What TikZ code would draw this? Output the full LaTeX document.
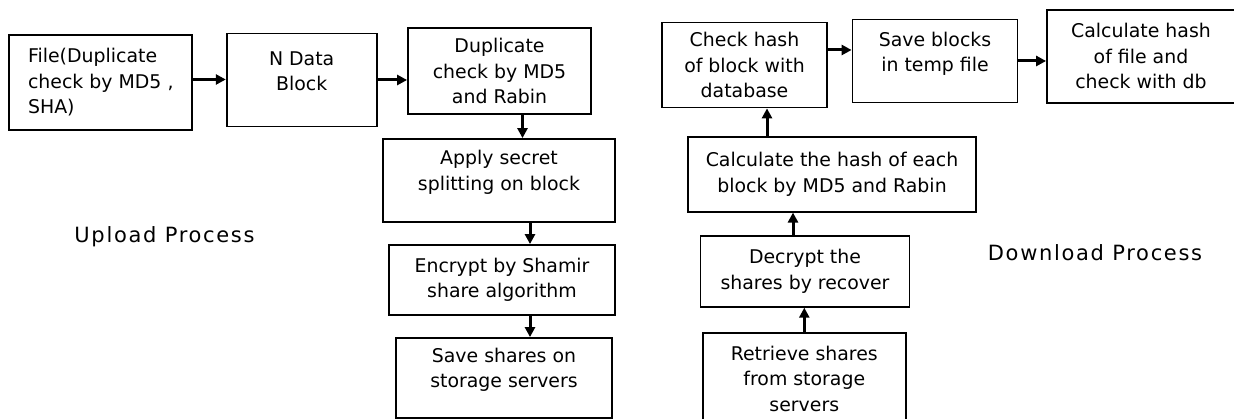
\documentclass[tikz,border=0pt]{standalone}
\usepackage{fontspec}
\newfontfamily\boitefont{DejaVu Sans}
\newfontfamily\titrefont[LetterSpace=8]{DejaVu Sans}
\usetikzlibrary{arrows.meta}

% texte remonté dans sa boîte
\newcommand\haut[2]{\raisebox{#1}[\height][\depth]{\begin{tabular}{@{}c@{}}#2\end{tabular}}}

\tikzset{
    boite/.style={draw, line width=1.8pt, align=center, inner sep=0pt,
        font=\boitefont\fontsize{18.9}{25.5}\selectfont},
    fleche/.style={-{Triangle[length=10pt,width=10pt]}, line width=3pt},
    titre/.style={font=\titrefont\fontsize{21}{25}\selectfont}
}

\begin{document}
\begin{tikzpicture}[x=10pt,y=10pt]
    \useasboundingbox (0,0) rectangle (123.4,41.9);

    % Envoi
    \node[boite, align=left, minimum width=183pt, minimum height=95pt] (fichier) at (10.08,33.65) {File(Duplicate\\check by MD5 ,\\SHA)};
    \node[boite, minimum width=150pt, minimum height=93pt] (blocs) at (30.17,33.9) {\haut{7pt}{N Data\\Block}};
    \node[boite, minimum width=183pt, minimum height=86pt] (doublon) at (49.95,34.8) {Duplicate\\check by MD5\\and Rabin};
    \node[boite, minimum width=232pt, minimum height=83pt] (partage) at (49.9,23.85) {\haut{8pt}{Apply secret\\splitting on block}};
    \node[boite, minimum width=226pt, minimum height=70pt] (chiffre) at (50.2,13.9) {Encrypt by Shamir\\share algorithm};
    \node[boite, minimum width=216pt, minimum height=80pt] (sauve) at (50.4,4.1) {\haut{8pt}{Save shares on\\storage servers}};

    % Téléchargement
    \node[boite, minimum width=165pt, minimum height=85pt] (verif) at (74.45,35.4) {Check hash\\of block with\\database};
    \node[boite, minimum width=165pt, minimum height=83pt] (temp) at (93.5,35.8) {\haut{7pt}{Save blocks\\in temp file}};
    \node[boite, minimum width=188pt, minimum height=93pt] (final) at (114.1,36.27) {Calculate hash\\of file and\\check with db};
    \node[boite, minimum width=288pt, minimum height=75pt] (calcul) at (83.2,24.48) {Calculate the hash of each\\block by MD5 and Rabin};
    \node[boite, minimum width=209pt, minimum height=71pt] (dechiffre) at (80.5,14.77) {Decrypt the\\shares by recover};
    \node[boite, minimum width=203pt, minimum height=92pt] (recup) at (80.43,4.02) {Retrieve shares\\from storage\\servers};

    % Flèches
    \draw[fleche] ([yshift=3pt]fichier.east) -- ([yshift=3pt]fichier.east -| blocs.west);
    \draw[fleche] (blocs.east) -- (blocs.east -| doublon.west);
    \draw[fleche] ([xshift=23pt]doublon.south) -- ([xshift=23pt]doublon.south |- partage.north);
    \draw[fleche] ([xshift=31pt]partage.south) -- ([xshift=31pt]partage.south |- chiffre.north);
    \draw[fleche] ([xshift=28pt]chiffre.south) -- ([xshift=28pt]chiffre.south |- sauve.north);

    \draw[fleche] ([xshift=-65pt]calcul.north) -- ([xshift=-65pt]calcul.north |- verif.south);
    \draw[fleche] ([yshift=15pt]verif.east) -- ([yshift=15pt]verif.east -| temp.west);
    \draw[fleche] (temp.east) -- (temp.east -| final.west);
    \draw[fleche] ([xshift=-12pt]dechiffre.north) -- ([xshift=-12pt]dechiffre.north |- calcul.south);
    \draw[fleche] (recup.north) -- (recup.north |- dechiffre.south);

    % Légendes
    \node[titre] (envoi) at (16.45,18.2) {Upload Process};
    \node[titre] (telechargement) at (109.5,16.6) {Download Process};
\end{tikzpicture}
\end{document}
